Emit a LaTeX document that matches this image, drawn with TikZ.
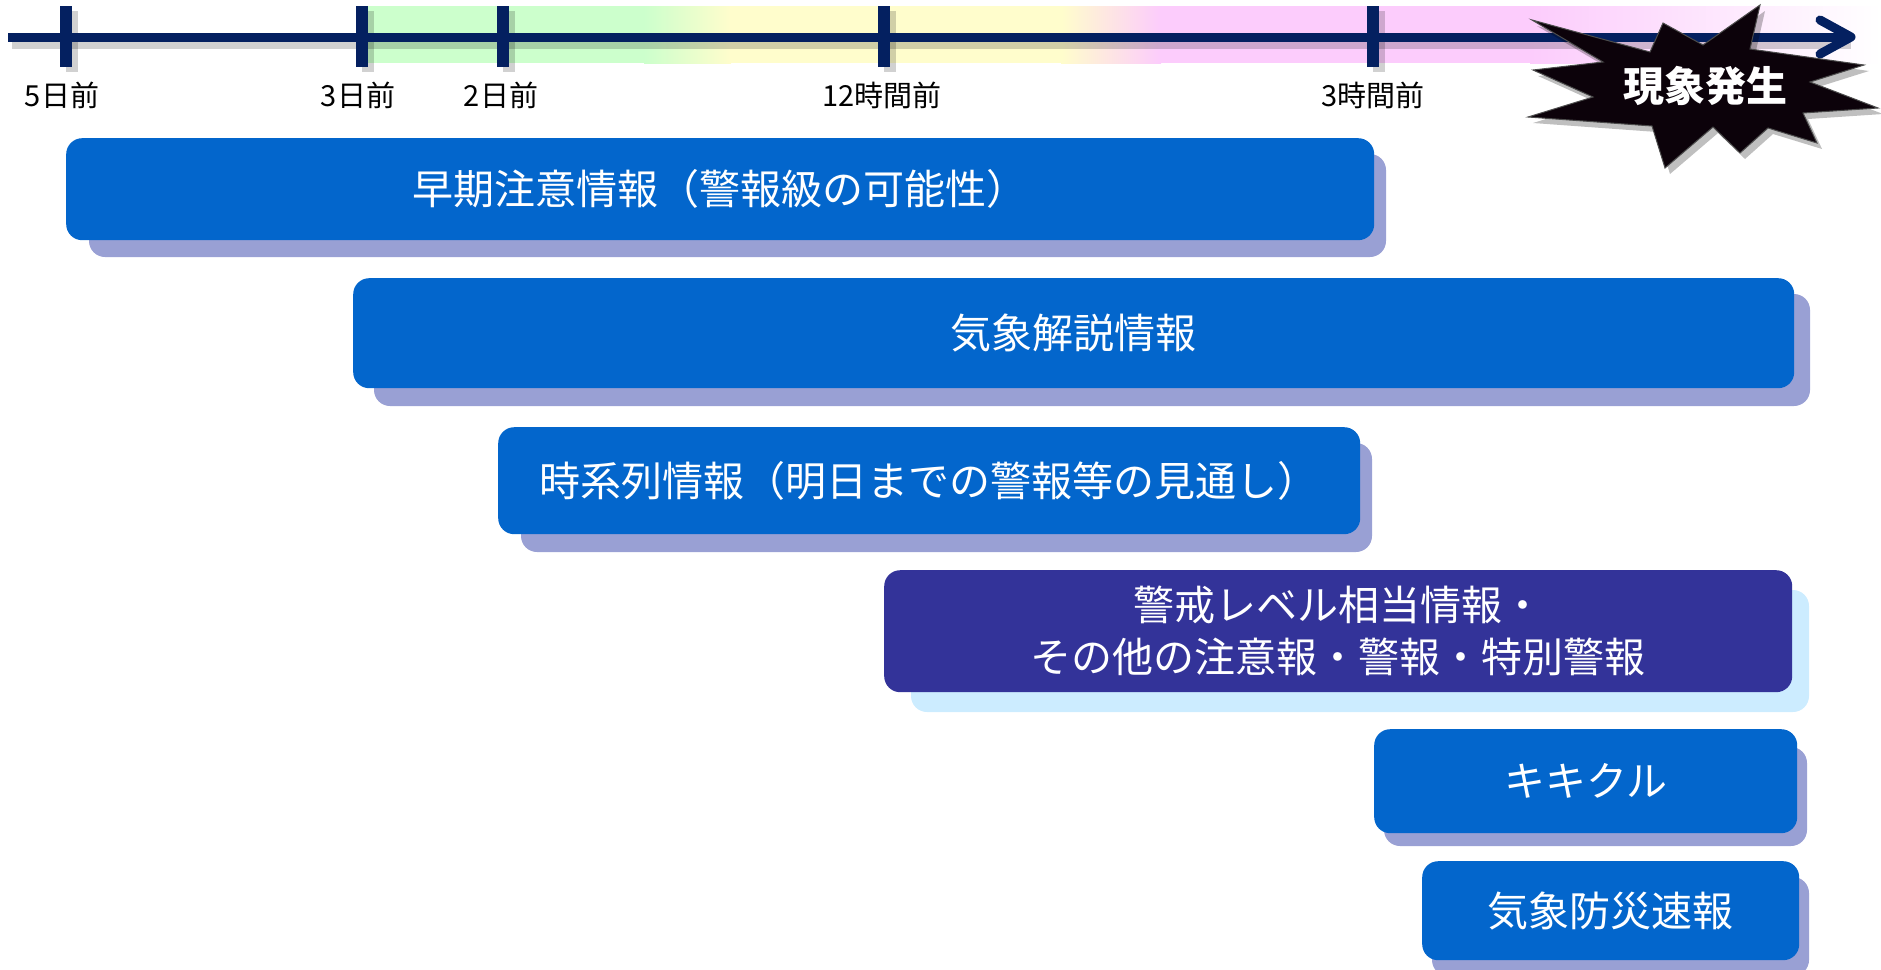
\documentclass[tikz,border=0pt]{standalone}
\usepackage{fontspec}
\newfontfamily\jp{Noto Sans CJK JP}
\usetikzlibrary{calc}
\definecolor{axiscol}{RGB}{4,32,96}
\definecolor{boxblue}{RGB}{3,102,204}
\definecolor{boxshadow}{RGB}{153,160,212}
\definecolor{boxpurple}{RGB}{51,51,153}
\definecolor{lightblue}{RGB}{204,236,255}
\definecolor{bgreen}{RGB}{204,255,204}
\definecolor{byellow}{RGB}{255,253,204}
\definecolor{bpink}{RGB}{252,204,252}
\definecolor{burst}{RGB}{12,2,10}
\begin{document}
\begin{tikzpicture}[x=1pt,y=-1pt,
  infobox/.style={fill=boxblue, rounded corners=16pt, text=white,
    font=\jp\fontsize{41}{52}\selectfont, inner sep=0pt, align=center, anchor=north west},
  boxshade/.style={fill=boxshadow, rounded corners=16pt},
  axisline/.style={draw=axiscol, line width=9pt},
  tickline/.style={draw=axiscol, line width=12pt},
  axshadow/.style={draw=black, opacity=0.18},
  ticklabel/.style={font=\jp\fontsize{29}{34}\selectfont, text=black, inner sep=0pt}]
\useasboundingbox (0,0) rectangle (1881,969);
% background bands
\fill[bgreen] (362,6) rectangle (645,63);
\fill[left color=bgreen, right color=byellow] (644,6) rectangle (731,63);
\fill[byellow] (730,6) rectangle (1062,63);
\fill[left color=byellow, right color=bpink] (1061,6) rectangle (1161,63);
\fill[bpink] (1160,6) rectangle (1531,63);
\fill[left color=bpink, right color=white] (1530,6) rectangle (1881,63);
% axis coordinates
\coordinate (axL) at (8,37);
\coordinate (axR) at (1851,37);
\coordinate (t5d) at (66,37);
\coordinate (t3d) at (362,37);
\coordinate (t2d) at (503,37);
\coordinate (t12h) at (884,37);
\coordinate (t3h) at (1373,37);
\coordinate (arrA) at (1820,20);
\coordinate (arrB) at (1820,54);
% shadows of axis and ticks
\draw[axshadow, line width=10pt] ($(axL)+(4,7)$) -- ($(axR)+(0,7)$);
\foreach \t in {t5d,t3d,t2d,t12h,t3h}{
  \draw[axshadow, line width=12pt] ($(\t)+(6,-26)$) -- ($(\t)+(6,35)$);
}
% axis
\draw[axisline] (axL) -- (axR);
\draw[axisline, line cap=round, line join=round] (arrA) -- (axR) -- (arrB);
\foreach \t in {t5d,t3d,t2d,t12h,t3h}{
  \draw[tickline] ($(\t)+(0,-31)$) -- ($(\t)+(0,30)$);
}
% tick labels
\node[ticklabel] (l5d) at (62,95) {5日前};
\node[ticklabel] (l3d) at (358,95) {3日前};
\node[ticklabel] (l2d) at (501,95) {2日前};
\node[ticklabel] (l12h) at (882,95) {12時間前};
\node[ticklabel] (l3h) at (1373,95) {3時間前};
% starburst
\coordinate (bc) at (1705,86);
\def\burstpath{(1532,20) -- (1650,52) -- (1663,23) -- (1703,45) -- (1760,5) -- (1750,49) -- (1864,65) -- (1810,82) -- (1878,108) -- (1803,113) -- (1817,143) -- (1768,128) -- (1740,153) -- (1713,127) -- (1665,168) -- (1652,126) -- (1528,117) -- (1593,97) -- (1533,70) -- (1603,62) -- cycle}
\fill[black, opacity=0.25, shift={(5,6)}] \burstpath;
\filldraw[fill=burst, draw=black!70, line width=1pt] \burstpath;
\node[font=\jp\bfseries\fontsize{41}{48}\selectfont, text=white, inner sep=0pt] (burst) at (bc) {現象発生};
% box geometry
\coordinate (b1a) at (66,138);   \coordinate (b1b) at (1374,240);
\coordinate (b2a) at (353,278);  \coordinate (b2b) at (1794,388);
\coordinate (b3a) at (498,427);  \coordinate (b3b) at (1360,534);
\coordinate (b4a) at (884,570);  \coordinate (b4b) at (1792,692);
\coordinate (b5a) at (1374,729); \coordinate (b5b) at (1797,833);
\coordinate (b6a) at (1422,861); \coordinate (b6b) at (1799,960);
% box shadows
\fill[boxshade] ($(b1a)+(23,16)$) rectangle ($(b1b)+(12,17)$);
\fill[boxshade] ($(b2a)+(21,16)$) rectangle ($(b2b)+(16,18)$);
\fill[boxshade] ($(b3a)+(23,16)$) rectangle ($(b3b)+(12,18)$);
\fill[boxshade, fill=lightblue] ($(b4a)+(27,20)$) rectangle ($(b4b)+(17,20)$);
\fill[boxshade] ($(b5a)+(10,18)$) rectangle ($(b5b)+(10,13)$);
\fill[boxshade] ($(b6a)+(10,16)$) rectangle ($(b6b)+(10,16)$);
% boxes
\node[infobox, minimum width=1308pt, minimum height=102pt] (b1) at (b1a) {早期注意情報（警報級の可能性）};
\node[infobox, minimum width=1441pt, minimum height=110pt] (b2) at (b2a) {気象解説情報};
\node[infobox, minimum width=862pt, minimum height=107pt] (b3) at (b3a) {時系列情報（明日までの警報等の見通し）};
\node[infobox, fill=boxpurple, minimum width=908pt, minimum height=122pt] (b4) at (b4a) {警戒レベル相当情報・\\その他の注意報・警報・特別警報};
\node[infobox, minimum width=423pt, minimum height=104pt] (b5) at (b5a) {キキクル};
\node[infobox, minimum width=377pt, minimum height=99pt] (b6) at (b6a) {気象防災速報};
\end{tikzpicture}
\end{document}
